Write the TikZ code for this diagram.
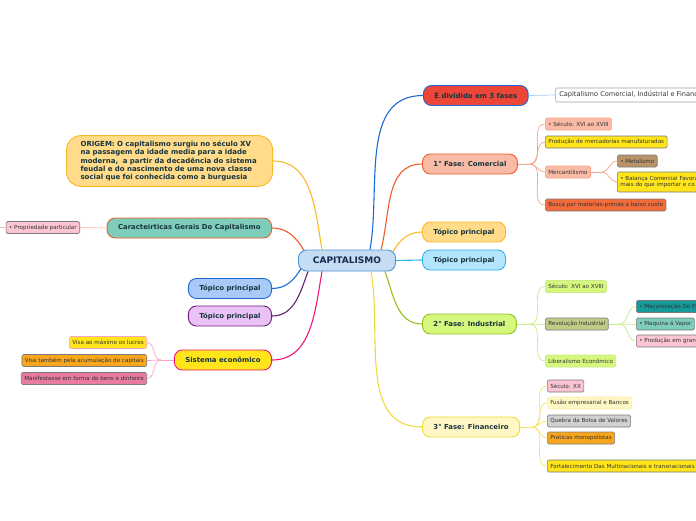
\documentclass[tikz,border=0pt]{standalone}
\usepackage{fontspec}
\setmainfont{DejaVu Sans}
\usepackage{xcolor}
\usepackage{tikz}
\definecolor{txt}{HTML}{17343F}
\definecolor{navy}{HTML}{16294F}
\definecolor{capfill}{HTML}{C4DDF2}
\definecolor{capline}{HTML}{4C95D6}
\definecolor{blueline}{HTML}{1D6AD6}
\definecolor{redfill}{HTML}{EB4638}
\definecolor{orline}{HTML}{F15A29}
\definecolor{salmon}{HTML}{F9BAA6}
\definecolor{salmonline}{HTML}{F6A389}
\definecolor{gold}{HTML}{FBB829}
\definecolor{goldfill}{HTML}{FFDB8A}
\definecolor{cyanline}{HTML}{2DB3EE}
\definecolor{cyanfill}{HTML}{B3E5FC}
\definecolor{lime}{HTML}{92C01E}
\definecolor{limefill}{HTML}{D5F77D}
\definecolor{limetwig}{HTML}{C9EB85}
\definecolor{yelline}{HTML}{F0DA3A}
\definecolor{yelfill}{HTML}{FFF8C4}
\definecolor{yeltwig}{HTML}{F4E46E}
\definecolor{tealfill}{HTML}{7DCDBA}
\definecolor{skyfill}{HTML}{A9C9F7}
\definecolor{purline}{HTML}{6A1E7B}
\definecolor{purfill}{HTML}{EAC2F6}
\definecolor{pinkline}{HTML}{F2167A}
\definecolor{pinktwig}{HTML}{F7A3C4}
\definecolor{yellowfill}{HTML}{FFE51A}
\definecolor{pinkfill}{HTML}{FBC5D3}
\definecolor{orangefill}{HTML}{F8A61C}
\definecolor{rosefill}{HTML}{E97AA0}
\definecolor{tanfill}{HTML}{B9946A}
\definecolor{deeporange}{HTML}{F26B3A}
\definecolor{olivefill}{HTML}{BECC86}
\definecolor{darkteal}{HTML}{15999A}
\definecolor{silverfill}{HTML}{D1D1D1}
\definecolor{edge}{HTML}{7A7A7A}

\begin{document}
\begin{tikzpicture}[x=1pt, y=1pt,
  topic/.style={draw, line width=0.9pt, rounded corners=8pt, minimum height=20pt, inner xsep=11pt, inner ysep=0pt, font=\fontsize{6.9}{8}\selectfont\bfseries, text=txt},
  leaf/.style={draw=edge, line width=0.6pt, rounded corners=1.5pt, minimum height=12pt, inner xsep=3pt, inner ysep=0pt, font=\fontsize{5.6}{6.4}\selectfont, text=black!80},
  link/.style={line width=1.1pt},
  twig/.style={line width=0.7pt}]
\useasboundingbox (0,0) rectangle (696,-520);
\node[topic, fill=capfill, draw=capline, minimum width=97pt, minimum height=21pt, font=\fontsize{9}{10}\selectfont\bfseries, text=navy] (cap) at (347,-260.5) {CAPITALISMO};
\node[topic, anchor=west, fill=redfill, draw=blueline] (div) at (423,-95.5) {É dividido em 3 fases};
\node[topic, anchor=west, fill=salmon, draw=orline] (f1) at (422,-164) {1° Fase: Comercial};
\node[topic, anchor=west, fill=goldfill, draw=gold] (tp1) at (422,-232) {Tópico principal};
\node[topic, anchor=west, fill=cyanfill, draw=cyanline] (tp2) at (422,-260) {Tópico principal};
\node[topic, anchor=west, fill=limefill, draw=lime] (f2) at (422,-324) {2° Fase: Industrial};
\node[topic, anchor=west, fill=yelfill, draw=yelline] (f3) at (422,-427) {3° Fase: Financeiro};
\node[topic, anchor=east, fill=goldfill, draw=gold, rounded corners=14pt, inner xsep=14pt, inner ysep=5pt, text width=178pt, align=left, font=\fontsize{7}{8.4}\selectfont\bfseries] (orig) at (273,-161) {ORIGEM: O capitalismo surgiu no século XV\\na passagem da idade media para a idade\\moderna,\ \ a partir da decadência do sistema\\feudal e do nascimento de uma nova classe\\social que foi conhecida como a burguesia};
\node[topic, anchor=east, fill=tealfill, draw=orline] (carac) at (272,-228) {Caracteirticas Gerais Do Capitalismo};
\node[topic, anchor=east, fill=skyfill, draw=blueline] (tpb) at (272,-288.5) {Tópico principal};
\node[topic, anchor=east, fill=purfill, draw=purline] (tpp) at (272,-316) {Tópico principal};
\node[topic, anchor=east, fill=yellowfill, draw=pinkline] (sis) at (272,-360) {Sistema econômico};

\node[leaf, anchor=west, fill=white, draw=edge!70, minimum height=14pt, inner xsep=4pt, font=\fontsize{6.6}{8}\selectfont] (fases) at (555,-95) {Capitalismo Comercial, Indústrial e Financeiro};

\node[leaf, anchor=west, fill=salmon, draw=salmonline] (s11) at (545,-124) {• Século: XVI ao XVIII};
\node[leaf, anchor=west, fill=yellowfill] (s12) at (545,-142) {Produção de mercadorias manufaturadas};
\node[leaf, anchor=west, fill=salmon, draw=salmonline] (merc) at (545,-172) {Mercantilismo};
\node[leaf, anchor=west, fill=deeporange] (s14) at (545,-205) {Busca por materias-primas a baixo custo};
\node[leaf, anchor=west, fill=tanfill] (metal) at (617,-161) {• Metalismo};
\node[leaf, anchor=west, fill=yellowfill, minimum height=20pt, text width=96pt, align=left] (bal) at (617,-182) {• Balança Comercial Favorá\\mais do que importar e co};

\node[leaf, anchor=west, fill=limefill, draw=limetwig] (s21) at (545,-286.5) {Século: XVI ao XVIII};
\node[leaf, anchor=west, fill=olivefill] (rev) at (545,-324) {Revolução Industrial};
\node[leaf, anchor=west, fill=limefill, draw=limetwig] (s23) at (545,-361) {Liberalismo Econômico};
\node[leaf, anchor=west, fill=darkteal, text width=80pt, align=left] (mec) at (636,-306.5) {• Mecanização Do Pr};
\node[leaf, anchor=west, fill=tealfill] (vap) at (636,-324) {• Maquina á Vapor};
\node[leaf, anchor=west, fill=pinkfill, text width=80pt, align=left] (prod) at (636,-341) {• Produção em gran};

\node[leaf, anchor=west, fill=pinkfill] (s31) at (547,-386) {Século: XX};
\node[leaf, anchor=west, fill=yelfill, draw=yeltwig!60] (s32) at (547,-403) {Fusão empresarial e Bancos};
\node[leaf, anchor=west, fill=silverfill] (s33) at (547,-421) {Quebra da Bolsa de Valores};
\node[leaf, anchor=west, fill=orangefill] (s34) at (547,-438) {Praticas monopolistas};
\node[leaf, anchor=west, fill=yellowfill] (s35) at (547,-466) {Fortalecimento Das Multinacionais e transnacionais};

\node[leaf, anchor=east, fill=pinkfill] (prop) at (80,-227.5) {• Propriedade particular};
\node[leaf, anchor=east, fill=yellowfill, draw=pinktwig] (l1) at (147,-342.5) {Visa ao máximo os lucros};
\node[leaf, anchor=east, fill=orangefill] (l2) at (147,-360.5) {Visa também pela acumulação de capitais};
\node[leaf, anchor=east, fill=rosefill] (l3) at (147,-378.5) {Manifestasse em forma de bens e dinheiro};

\coordinate (f1j) at ([xshift=12pt]f1.east);
\coordinate (mj) at ([xshift=11pt]merc.east);
\coordinate (f2j) at ([xshift=13pt]f2.east);
\coordinate (rj) at ([xshift=11pt]rev.east);
\coordinate (f3j) at ([xshift=12pt]f3.east);
\coordinate (sj) at ([xshift=-13pt]sis.west);
\coordinate (edgeL) at (0,-227.5);

\draw[link, blueline] ([xshift=23pt]cap.north) to[out=80,in=180] (div.west);
\draw[link, orline] ([xshift=34pt]cap.north) to[out=75,in=180] (f1.west);
\draw[link, gold] ([xshift=46pt,yshift=-2pt]cap.north) to[out=60,in=180] (tp1.west);
\draw[link, cyanline] (cap.east) -- (tp2.west);
\draw[link, lime] ([xshift=38pt]cap.south) to[out=-70,in=180] (f2.west);
\draw[link, yelline] ([xshift=24pt]cap.south) to[out=-80,in=180] (f3.west);
\draw[link, gold] ([xshift=-25pt]cap.north) to[out=100,in=0] (orig.east);
\draw[link, orline] ([xshift=-43pt,yshift=-1pt]cap.north) to[out=120,in=0] (carac.east);
\draw[link, blueline] ([xshift=-46pt,yshift=3pt]cap.south) to[out=-120,in=0] (tpb.east);
\draw[link, purline] ([xshift=-39pt]cap.south) to[out=-110,in=0] (tpp.east);
\draw[link, pinkline] ([xshift=-25pt]cap.south) to[out=-100,in=0] (sis.east);

\draw[twig, skyfill] (div.east) -- (fases.west);
\draw[twig, salmonline] (f1.east) -- (f1j);
\foreach \t in {s11,s12,merc,s14} \draw[twig, salmonline] (f1j) to[out=0,in=180] (\t.west);
\draw[twig, salmonline] (merc.east) -- (mj);
\foreach \t in {metal,bal} \draw[twig, salmonline] (mj) to[out=0,in=180] (\t.west);
\draw[twig, limetwig] (f2.east) -- (f2j);
\foreach \t in {s21,rev,s23} \draw[twig, limetwig] (f2j) to[out=0,in=180] (\t.west);
\draw[twig, limetwig] (rev.east) -- (rj);
\foreach \t in {mec,vap,prod} \draw[twig, limetwig] (rj) to[out=0,in=180] (\t.west);
\draw[twig, yeltwig] (f3.east) -- (f3j);
\foreach \t in {s31,s32,s33,s34,s35} \draw[twig, yeltwig] (f3j) to[out=0,in=180] (\t.west);
\draw[twig, pinktwig] (sis.west) -- (sj);
\foreach \t in {l1,l2,l3} \draw[twig, pinktwig] (sj) to[out=180,in=0] (\t.east);
\draw[twig, salmon] (carac.west) -- (prop.east);
\draw[twig, salmon] (prop.west) -- (edgeL);
\end{tikzpicture}
\end{document}
